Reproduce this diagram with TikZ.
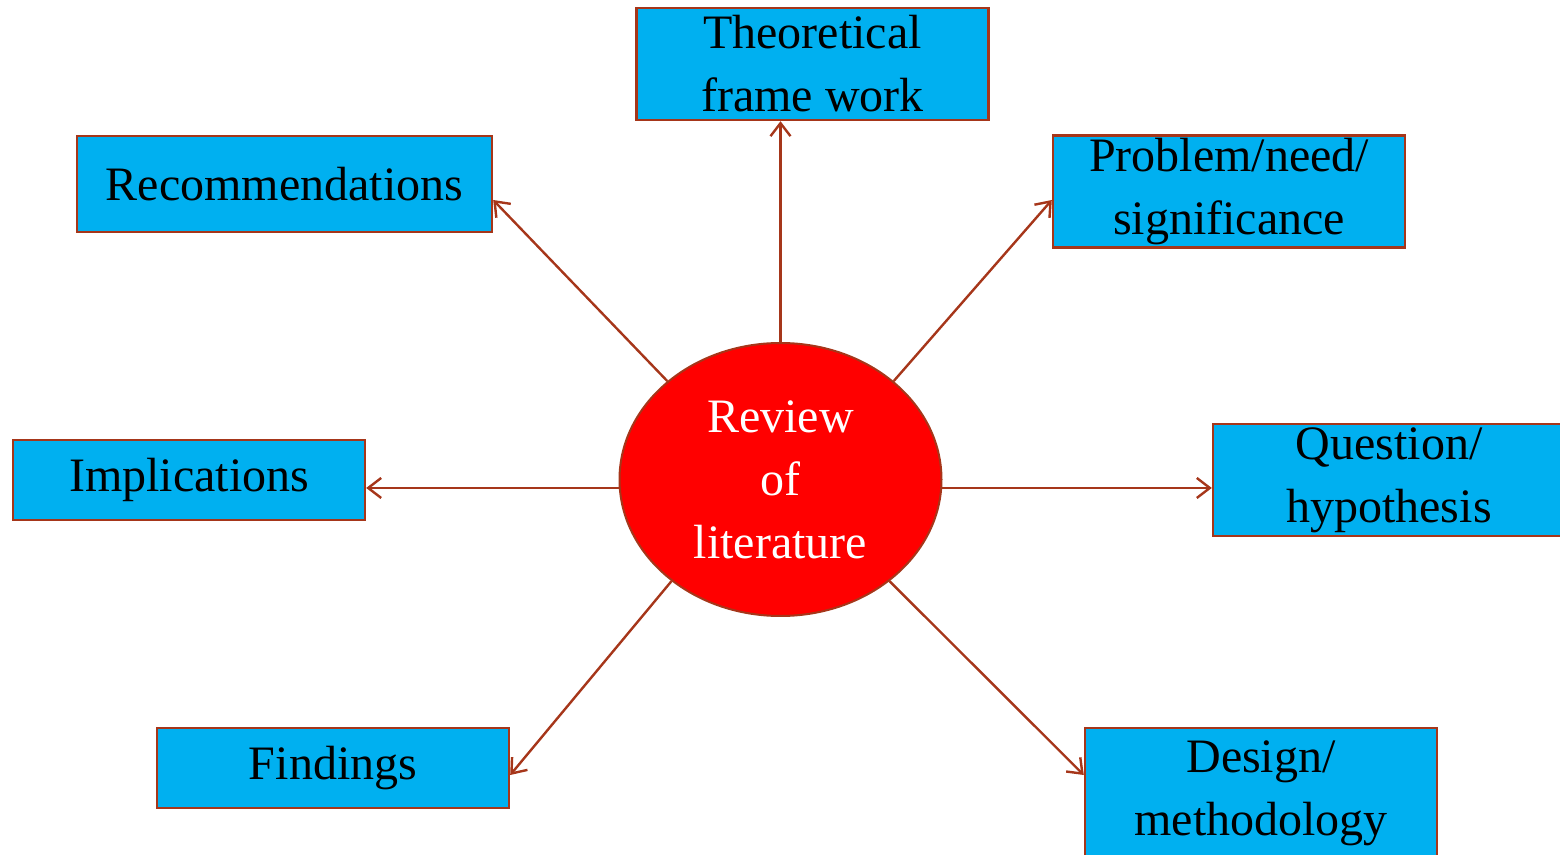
\documentclass[tikz,border=0pt]{standalone}
\usepackage{fontspec}
\setmainfont{Liberation Serif}
\usetikzlibrary{shapes.geometric,arrows.meta,calc}
\definecolor{rimbrown}{RGB}{166,54,26}
\definecolor{boxblue}{RGB}{0,176,240}
\tikzset{
  topic/.style={draw=rimbrown,line width=1.2pt,fill=boxblue,minimum width=176pt,align=center,inner sep=0pt,font=\fontsize{24}{31.5}\selectfont},
  hub/.style={ellipse,draw=rimbrown,line width=1pt,fill=red,text=white,minimum width=161pt,minimum height=136.5pt,inner sep=0pt,align=center,font=\fontsize{24}{31.5}\selectfont},
  link/.style={draw=rimbrown,line width=1.2pt,-{Straight Barb[length=6.5pt,width=10pt]}}
}
\begin{document}
\begin{tikzpicture}[x=0.5pt,y=-0.5pt]
      \useasboundingbox (0,0) rectangle (1560,855);
      \node[hub] (rev) at (780.5,479.5) {Review\\ of\\ literature};
      \node[topic,minimum height=56pt] (theo) at (812.5,64) {Theoretical\\ frame work};
      \node[topic,minimum width=207.5pt,minimum height=48pt] (rec) at (284.5,184) {Recommendations};
      \node[topic,minimum height=56pt] (prob) at (1229,191.5) {Problem/need/\\ significance};
      \node[topic,minimum height=40pt] (impl) at (189,480) {Implications};
      \node[topic,minimum height=56pt] (ques) at (1389,480) {Question/\\ hypothesis};
      \node[topic,minimum height=40pt] (find) at (333,768) {Findings};
      \node[topic,minimum height=65pt] (des) at (1261,793) {Design/\\ methodology};
      \draw[link] (rev.north) -- (rev.north |- theo.south);
      \draw[link] (rev.139) -- ($(rec.east)+(0,16)$);
      \draw[link] (rev.41) -- ($(prob.west)+(0,8.5)$);
      \draw[link] (rev.183) -- (rev.183 -| impl.east);
      \draw[link] (rev.357) -- (rev.357 -| ques.west);
      \draw[link] (rev.223) -- ($(find.east)+(0,7)$);
      \draw[link] (rev.317) -- ($(des.west)+(0,-18)$);
    \end{tikzpicture}
\end{document}
